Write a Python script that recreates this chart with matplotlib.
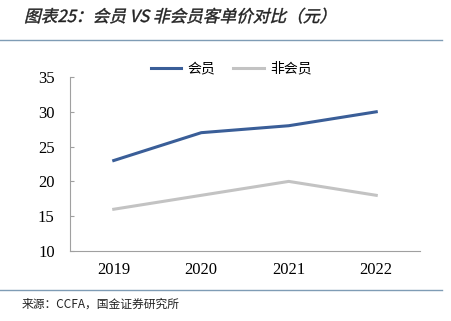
import matplotlib.pyplot as plt
from matplotlib.lines import Line2D
from matplotlib.patches import PathPatch
from matplotlib.textpath import TextPath
from matplotlib.font_manager import FontProperties
from matplotlib.transforms import Affine2D

years = ["2019", "2020", "2021", "2022"]
member = [23, 27, 28, 30]
non_member = [16, 18, 20, 18]
yticks = [10, 15, 20, 25, 30, 35]

CJK = ["Noto Sans CJK SC", "DejaVu Sans"]
C_BLUE = "#3A5E98"
C_GREY = "#C3C3C3"
C_RULE = "#7F9CB5"

W, H = 452, 321
fig = plt.figure(figsize=(W / 100, H / 100), dpi=100)
fig.patch.set_facecolor("white")

ax = fig.add_axes([70 / W, 1 - 251 / H, 350 / W, (251 - 77) / H])
x = range(len(years))
ax.plot(x, member, color=C_BLUE, linewidth=2.2, label="会员")
ax.plot(x, non_member, color=C_GREY, linewidth=2.2, label="非会员")

ax.set_xlim(-0.5, len(years) - 0.5)
ax.set_ylim(10, 35)
ax.set_yticks(yticks)
ax.set_xticks(list(x))
ax.set_xticklabels(years)
for lab in ax.get_xticklabels() + ax.get_yticklabels():
    lab.set_family("Liberation Serif")
    lab.set_fontsize(12)
ax.tick_params(axis="y", direction="in", length=3, color="#A0A0A0", pad=11)
ax.tick_params(axis="x", length=0, pad=8)
for s in ("top", "right"):
    ax.spines[s].set_visible(False)
for s in ("left", "bottom"):
    ax.spines[s].set_color("#A0A0A0")
    ax.spines[s].set_linewidth(0.8)

leg = ax.legend(loc="upper left", bbox_to_anchor=(0.195, 1.16), ncol=2, frameon=False,
                handlelength=2.2, columnspacing=1.3, handletextpad=0.45,
                prop={"family": CJK, "size": 10})

# title, slanted like the original italic
title = "图表25：会员 VS 非会员客单价对比（元）"
tp = TextPath((0, 0), title, size=12,
              prop=FontProperties(family="Noto Sans CJK SC", weight="medium"))
tr = (Affine2D().scale(1 / 72).skew_deg(14, 0)
      .translate(24 / 100, (H - 22) / 100) + fig.dpi_scale_trans)
fig.add_artist(PathPatch(tp, transform=tr, facecolor="#222222", edgecolor="#222222",
                         linewidth=0.3))

fig.add_artist(Line2D([0, 442 / W], [1 - 40 / H, 1 - 40 / H], color=C_RULE,
                      linewidth=1.0, transform=fig.transFigure))
fig.add_artist(Line2D([0, 442 / W], [1 - 290 / H, 1 - 290 / H], color=C_RULE,
                      linewidth=1.0, transform=fig.transFigure))
fig.text(22 / W, 1 - 304 / H, "来源：CCFA，国金证券研究所", family=CJK,
         fontsize=8.5, color="#222222", va="center", ha="left")

fig.savefig("out.png", dpi=100, facecolor="white")
